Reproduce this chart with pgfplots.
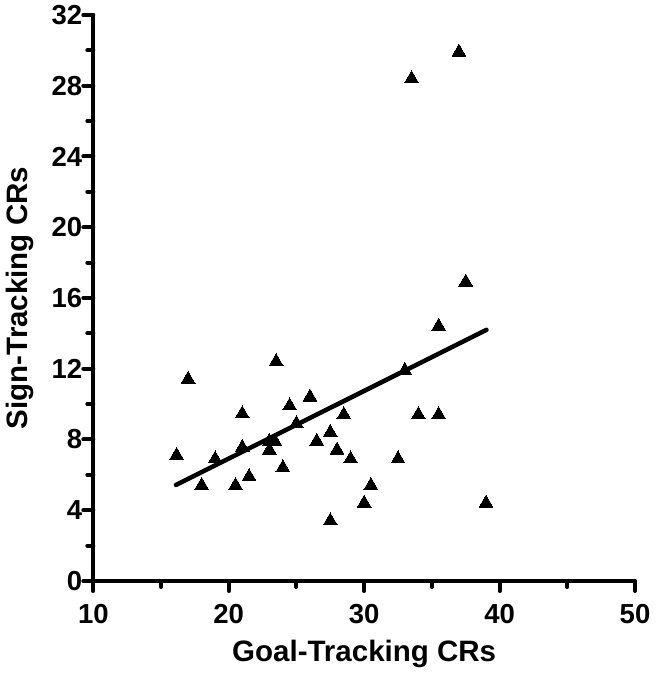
\documentclass[border=0pt]{standalone}
\usepackage{pgfplots}
\pgfplotsset{compat=1.18}
\usepackage{fontspec}
\setmainfont{Liberation Sans}
\pgfplotstableread{
x y
37.0 29.9
33.5 28.4
37.5 16.9
35.5 14.4
33.0 11.9
17.0 11.4
23.5 12.4
16.15 7.1
19.0 6.9
18.0 5.4
20.5 5.4
21.5 5.9
21.0 9.45
21.0 7.55
24.5 9.9
26.0 10.4
25.0 8.9
23.0 7.9
23.4 7.9
23.0 7.4
24.0 6.4
26.5 7.9
28.5 9.4
34.0 9.4
35.5 9.4
27.5 8.4
28.0 7.4
29.0 6.9
32.5 6.9
30.5 5.4
30.0 4.4
27.5 3.4
39.0 4.4
}\pts
\begin{document}
\begin{tikzpicture}
\begin{axis}[
  scale only axis, width=541.7pt, height=566pt,
  xmin=10, xmax=50, ymin=0, ymax=32,
  axis x line*=bottom, axis y line*=left,
  axis line style={line width=4pt, line cap=round},
  x axis line style={line width=4pt},
  y axis line style={line width=4pt},
  tick style={black, line width=4pt, line cap=round},
  major tick style={black, line width=4pt},
  minor tick style={black, line width=4pt},
  tick align=outside,
  major tick length=10pt, minor tick length=6pt,
  xtick={10,20,30,40,50}, minor xtick={15,25,35,45},
  ytick={0,4,...,32}, minor ytick={2,6,...,30},
  /pgf/number format/assume math mode=true,
  ticklabel style={font=\fontsize{27.5}{27.5}\selectfont\bfseries},
  xticklabel style={inner sep=0pt, yshift=-13pt},
  yticklabel style={inner sep=0pt, xshift=-1pt},
  xlabel={Goal-Tracking CRs},
  ylabel={Sign-Tracking CRs},
  label style={font=\fontsize{29.5}{29.5}\selectfont\bfseries, inner sep=0pt},
  xlabel style={at={(axis description cs:0.5,-0.1042)}, anchor=north},
  ylabel style={at={(axis description cs:-0.1606,0.5)}, anchor=north, rotate=0},
  clip=false,
]
\addplot[only marks, mark=triangle*, mark size=8pt, mark options={fill=black, draw=black, line width=0pt}] table {\pts};
\addplot[no marks, line width=4.5pt, line cap=round] coordinates {(16.1,5.43) (39.03,14.2)};
\end{axis}
\pgfresetboundingbox
\path[use as bounding box] ([xshift=-93.3pt,yshift=-94pt]current axis.south west) rectangle ([xshift=20pt,yshift=15pt]current axis.north east);
\end{tikzpicture}
\end{document}
